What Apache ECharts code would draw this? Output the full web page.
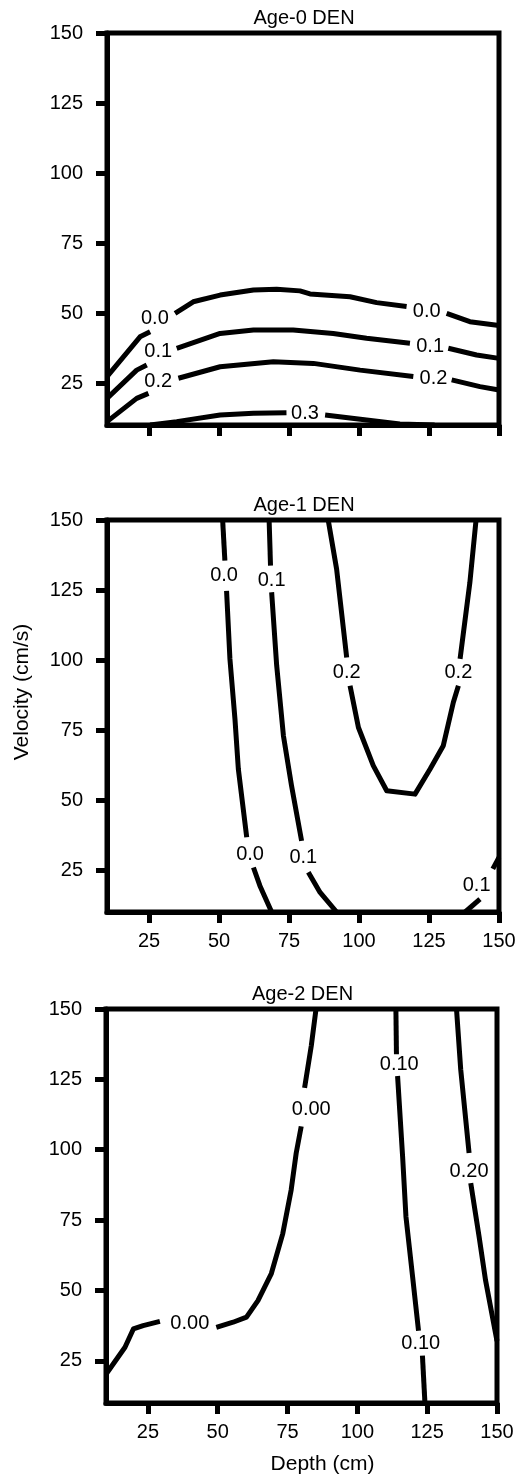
<!DOCTYPE html>
<html>
<head>
<meta charset="utf-8">
<title>DEN contours</title>
<script src="https://cdn.jsdelivr.net/npm/echarts@6/dist/echarts.min.js"></script>
<style>
    html, body { margin: 0; padding: 0; background: #fff; }
    #chart { width: 518px; height: 1475px; }
</style>
</head>
<body>
<div id="chart"></div>
<script>
    // tick values shared by all panels
    var xTicks = [25, 50, 75, 100, 125, 150];
    var yTicks = [25, 50, 75, 100, 125, 150];
    var panelTitles = ['Age-0 DEN', 'Age-1 DEN', 'Age-2 DEN'];

    // Age-0: each contour split into pieces where its label sits
    var age0_c00 = [
        [[10, 27.3], [21.8, 41.5], [25.4, 43.3]],
        [[34.3, 49.9], [40.8, 54], [50.4, 56.4], [62.3, 58.2], [70.6, 58.5], [78.9, 57.9], [82.5, 56.8], [96.8, 55.8], [106.3, 53.7], [117, 52.3]],
        [[131.3, 49.9], [139.6, 46.9], [150, 45.5]]
    ];
    var age0_c01 = [
        [[10, 19.5], [20.6, 29.6], [24.2, 31.4]],
        [[34.9, 37.4], [50.4, 42.7], [62.3, 43.9], [76.5, 43.9], [90.8, 42.7], [102.7, 41], [118.2, 39.2]],
        [[131.9, 37.4], [142, 35], [150, 33.8]]
    ];
    var age0_c02 = [
        [[10, 11.2], [20.6, 19.5], [24.8, 21.3]],
        [[35.5, 26.7], [50.4, 30.8], [69.4, 32.6], [83.7, 32], [100.4, 29.6], [119.4, 27.3]],
        [[133.1, 26.1], [143.2, 23.7], [150, 22.5]]
    ];
    var age0_c03 = [
        [[25.4, 10], [34.9, 11.2], [50.4, 13.6], [62.3, 14.2], [74.1, 14.4]],
        [[87.9, 13.6], [102.7, 11.8], [114.6, 10.4], [127, 10]]
    ];
    var age0_labels = [[27.1, 48.2, '0.0'], [124.2, 50.5, '0.0'], [28.3, 36.2, '0.1'], [125.4, 38, '0.1'],
        [28.3, 25.5, '0.2'], [126.6, 26.7, '0.2'], [80.7, 14.2, '0.3']];

    // Age-1
    var age1_c00 = [
        [[51.3, 150], [52.1, 135.5]],
        [[52.7, 124.7], [53.9, 100.4], [55.7, 78.9], [56.9, 61.1], [59.9, 36.7]],
        [[62.3, 25.9], [64.6, 19.4], [68.8, 10]]
    ];
    var age1_c01 = [
        [[67.9, 150], [68.4, 133.7]],
        [[68.8, 124.2], [70.6, 98], [73, 73], [75.9, 55.1], [79.5, 35.4]],
        [[81.9, 24.2], [86.1, 17], [92, 10]]
    ];
    var age1_c02 = [
        [[89, 150], [92, 132.5], [95.6, 100.9]],
        [[96.8, 90.8], [99.8, 75.9], [105.1, 62.3], [109.9, 53.3], [120, 52.1], [125.4, 61.1], [130.1, 69.4], [133.7, 84.9], [135.5, 90.8]],
        [[136.1, 100.4], [139.6, 127.7], [141.8, 150]]
    ];
    var age1_c01b = [
        [[137.9, 10], [143.2, 14.6]],
        [[147.8, 25.4], [150, 29.5]]
    ];
    var age1_labels = [[51.8, 130.1, '0.0'], [68.8, 128.3, '0.1'], [95.6, 95.6, '0.2'], [135.5, 95.6, '0.2'],
        [61.1, 30.7, '0.0'], [80.1, 29.5, '0.1'], [142, 19.4, '0.1']];

    // Age-2
    var age2_c000 = [
        [[10, 20.2], [16.8, 29.8], [19.8, 36.3], [23.3, 37.5], [29.3, 39]],
        [[49.5, 36.9], [55.5, 38.7], [60.3, 40.5], [64.4, 46.4], [69.2, 56], [73.3, 70.2], [76.3, 85.7], [78.1, 98.8], [79.9, 108.3]],
        [[81.1, 122], [83.5, 136.9], [85.2, 150]]
    ];
    var age2_c010 = [
        [[113.8, 150], [114, 133.9]],
        [[114.4, 126.2], [116.2, 97.6], [117.4, 76.2], [119.8, 54.7], [121.9, 35.7]],
        [[123.3, 26.8], [124.2, 10]]
    ];
    var age2_c020 = [
        [[135.5, 150], [137, 128.6], [140, 98.8]],
        [[140.6, 88.1], [143.6, 69], [145.9, 53.6], [150, 32]]
    ];
    var age2_labels = [[83.5, 114.3, '0.00'], [40, 38.1, '0.00'], [115, 130.4, '0.10'], [122.7, 31, '0.10'], [140, 92.3, '0.20']];

    var panelContours = [
        [age0_c00, age0_c01, age0_c02, age0_c03],
        [age1_c00, age1_c01, age1_c02, age1_c01b],
        [age2_c000, age2_c010, age2_c020]
    ];
    var panelLabels = [age0_labels, age1_labels, age2_labels];

    var FONT = 'Liberation Sans, Arial, sans-serif';
    var grids = [
        {left: 107, top: 33, width: 392, height: 392},
        {left: 107, top: 520, width: 392, height: 392},
        {left: 106, top: 1009, width: 391, height: 394}
    ];
    var titleTops = [3, 490, 979];

    var chart = echarts.init(document.getElementById('chart'));

    var option = {
        animation: false,
        backgroundColor: '#fff',
        textStyle: {fontFamily: FONT, color: '#000'},
        title: [],
        grid: [],
        xAxis: [],
        yAxis: [],
        series: []
    };

    grids.forEach(function (g, i) {
        option.grid.push({
            left: g.left, top: g.top, width: g.width, height: g.height,
            outerBoundsMode: 'none', containLabel: false,
            show: true, borderColor: '#000', borderWidth: 5, backgroundColor: 'transparent'
        });
        option.title.push({
            text: panelTitles[i],
            left: g.left + g.width / 2 - 4,
            top: titleTops[i],
            textAlign: 'center',
            textStyle: {fontFamily: FONT, fontSize: 20, fontWeight: 'normal', color: '#000'}
        });
        option.xAxis.push({
            type: 'value', gridIndex: i, min: 10, max: 150,
            axisLine: {show: true, lineStyle: {color: '#000', width: 5}},
            axisTick: {show: true, inside: false, length: 11, customValues: xTicks, lineStyle: {color: '#000', width: 5}},
            axisLabel: {show: i > 0, customValues: xTicks, margin: 19, fontSize: 20, color: '#000', fontFamily: FONT},
            splitLine: {show: false},
            name: i === 2 ? 'Depth (cm)' : '',
            nameLocation: 'middle', nameGap: 51,
            nameTextStyle: {fontSize: 21, color: '#000', fontFamily: FONT, padding: [0, 0, 0, 42]}
        });
        option.yAxis.push({
            type: 'value', gridIndex: i, min: 10, max: 150,
            axisLine: {show: true, lineStyle: {color: '#000', width: 5}},
            axisTick: {show: true, inside: false, length: 11, customValues: yTicks, lineStyle: {color: '#000', width: 5}},
            axisLabel: {show: true, customValues: yTicks, margin: 24, fontSize: 20, color: '#000', fontFamily: FONT},
            splitLine: {show: false},
            name: i === 1 ? 'Velocity (cm/s)' : '',
            nameLocation: 'middle', nameGap: 74, nameRotate: 90,
            nameTextStyle: {fontSize: 21, color: '#000', fontFamily: FONT, padding: [0, 0, 0, 48]}
        });

        panelContours[i].forEach(function (contour) {
            contour.forEach(function (seg) {
                option.series.push({
                    type: 'line', xAxisIndex: i, yAxisIndex: i,
                    data: seg, symbol: 'none', silent: true,
                    lineStyle: {color: '#000', width: 5, cap: 'butt', join: 'round'}
                });
            });
        });

        // contour level labels, placed in the gaps left in the lines
        option.series.push({
            type: 'scatter', xAxisIndex: i, yAxisIndex: i,
            data: panelLabels[i], symbolSize: 0, silent: true,
            itemStyle: {opacity: 1},
            label: {
                show: true, position: 'inside', color: '#000', opacity: 1, fontSize: 20, fontFamily: FONT,
                textBorderWidth: 0,
                formatter: function (p) { return p.value[2]; }
            }
        });
    });

    chart.setOption(option);
</script>
</body>
</html>
